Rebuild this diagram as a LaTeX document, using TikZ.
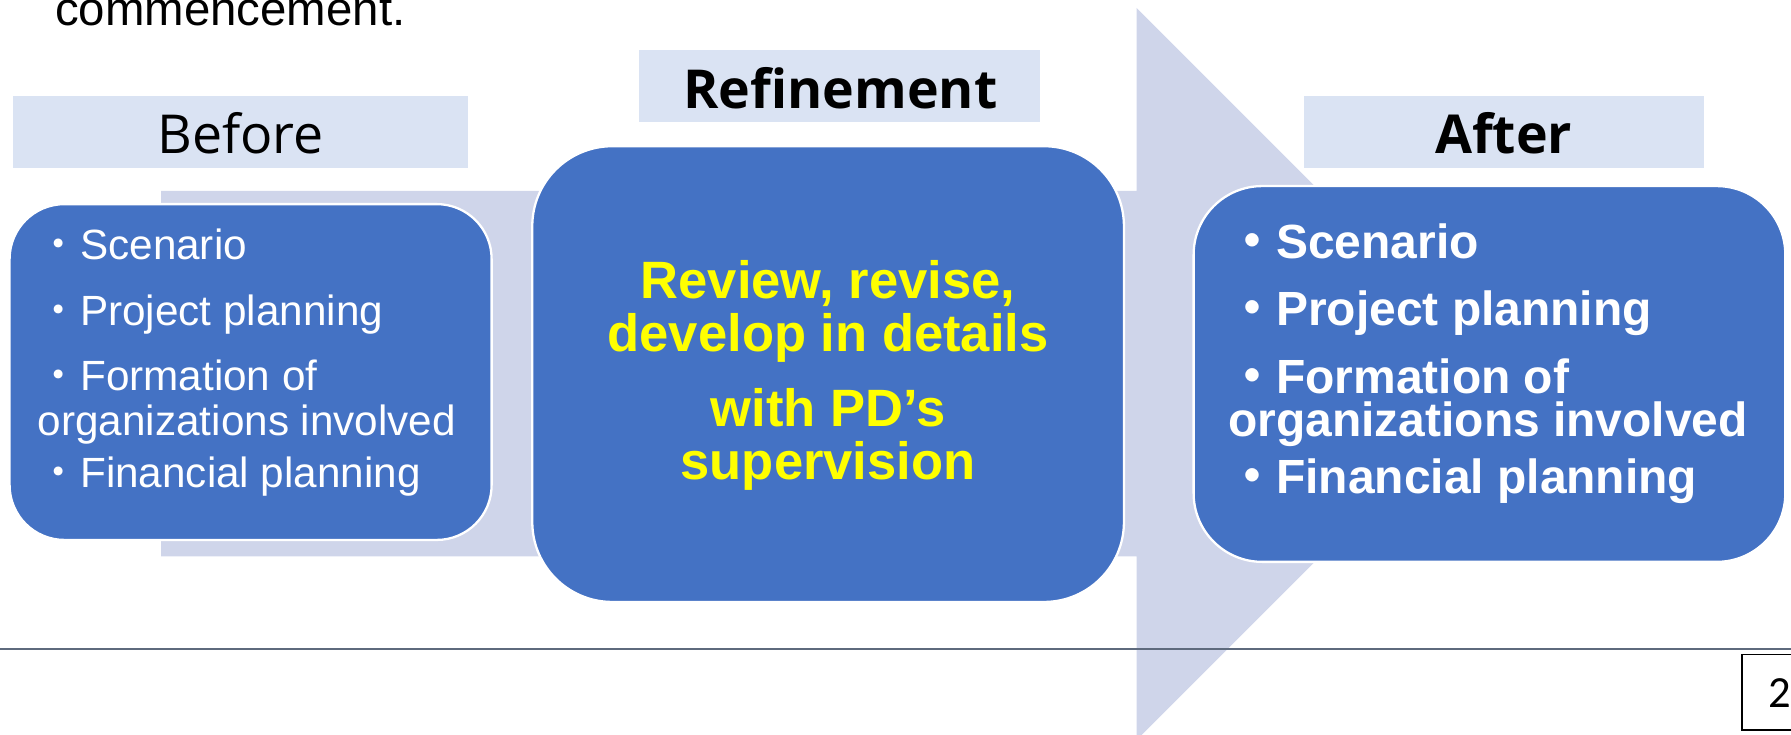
\documentclass[tikz,border=0pt]{standalone}
\usepackage{fontspec}
\setmainfont{Liberation Sans}
\newfontfamily\cjkfont{Noto Sans CJK JP}
\newfontfamily\hdrfont{Open Sans}
\newfontfamily\pgfont{Carlito}
\definecolor{boxblue}{HTML}{4472C4}
\definecolor{arrowlav}{HTML}{CFD5EA}
\definecolor{hdrblue}{HTML}{DAE3F3}
\definecolor{rulegray}{HTML}{5E6A7D}
\definecolor{ytext}{HTML}{FFFF00}
\begin{document}
\begin{tikzpicture}[x=1pt,y=-1pt,
  hdrbox/.style={fill=hdrblue, draw=none, inner sep=0pt, minimum height=63pt},
  bluebox/.style={fill=boxblue, draw=white, line width=2pt, inner sep=0pt},
  hdrtext/.style={inner sep=0pt, anchor=base, font=\hdrfont\fontsize{47pt}{56pt}\selectfont},
  hdrbold/.style={inner sep=0pt, anchor=base, font=\hdrfont\bfseries\fontsize{47pt}{56pt}\selectfont},
  wlist/.style={inner sep=0pt, anchor=base west, text=white, font=\fontsize{37pt}{44pt}\selectfont},
  wlistb/.style={inner sep=0pt, anchor=base west, text=white, font=\bfseries\fontsize{42pt}{50pt}\selectfont},
  yline/.style={inner sep=0pt, anchor=base, text=ytext, font=\bfseries\fontsize{46pt}{54pt}\selectfont}]
\useasboundingbox (0,0) rectangle (1568,643);
\clip (0,0) rectangle (1568,643);

% top text, cut off at the top
\node[inner sep=0pt, anchor=base west, font=\fontsize{41.5pt}{48pt}\selectfont] (topline) at (48,22) {commencement.};

% big background arrow
\fill[arrowlav] (141,167) -- (995,167) -- (995,7) -- (1315.5,327.5) -- (995,648) -- (995,487) -- (141,487) -- cycle;

% footer rule
\coordinate (ruleL) at (0,568.5);
\coordinate (ruleR) at (1568,568.5);
\draw[rulegray, line width=1.6pt] (ruleL) -- (ruleR);

% headers
\node[hdrbox, minimum width=398pt] (beforehdr) at (210.6,115.4) {};
\node[hdrtext] (beforetxt) at (210.6,134.8) {Before};
\node[hdrbox, minimum width=351pt] (refhdr) at (735.2,75.2) {};
\node[hdrbold] (reftxt) at (735.7,94.9) {Refinement};
\node[hdrbox, minimum width=350pt] (afterhdr) at (1317,115.5) {};
\node[hdrbold] (aftertxt) at (1316.5,134.8) {After};

% boxes
\node[bluebox, rounded corners=48pt, minimum width=422pt, minimum height=294pt] (before) at (219.4,325.7) {};
\node[bluebox, rounded corners=70pt, minimum width=518pt, minimum height=399pt] (refine) at (725,327.5) {};
\node[bluebox, rounded corners=60pt, minimum width=518pt, minimum height=329pt] (after) at (1304,327.4) {};

% before list
\node[wlist] (b1) at (33,227.6) {{\cjkfont ・}Scenario};
\node[wlist] (b2) at (33,285.1) {{\cjkfont ・}Project planning};
\node[wlist] (b3) at (33,342) {{\cjkfont ・}Formation of};
\node[wlist] (b4) at (33,380.9) {organizations involved};
\node[wlist] (b5) at (33,426.7) {{\cjkfont ・}Financial planning};

% refinement text
\node[yline] (r1) at (725,261) {Review, revise,};
\node[yline] (r2) at (725,308) {develop in details};
\node[yline] (r3) at (725,373) {with PD’s};
\node[yline] (r4) at (725,420) {supervision};

% after list
\node[wlistb] (a1) at (1075,226.2) {{\cjkfont ・}Scenario};
\node[wlistb] (a2) at (1075,285.1) {{\cjkfont ・}Project planning};
\node[wlistb] (a3) at (1075,344.4) {{\cjkfont ・}Formation of};
\node[wlistb] (a4) at (1075,382.3) {organizations involved};
\node[wlistb] (a5) at (1075,431.9) {{\cjkfont ・}Financial planning};

% page number box
\draw[black, line width=1.5pt, fill=white] (1525,573) rectangle (1620,639);
\node[inner sep=0pt, anchor=base west, font=\pgfont\fontsize{39pt}{46pt}\selectfont] (pagenum) at (1548,619.3) {23};
\end{tikzpicture}
\end{document}
